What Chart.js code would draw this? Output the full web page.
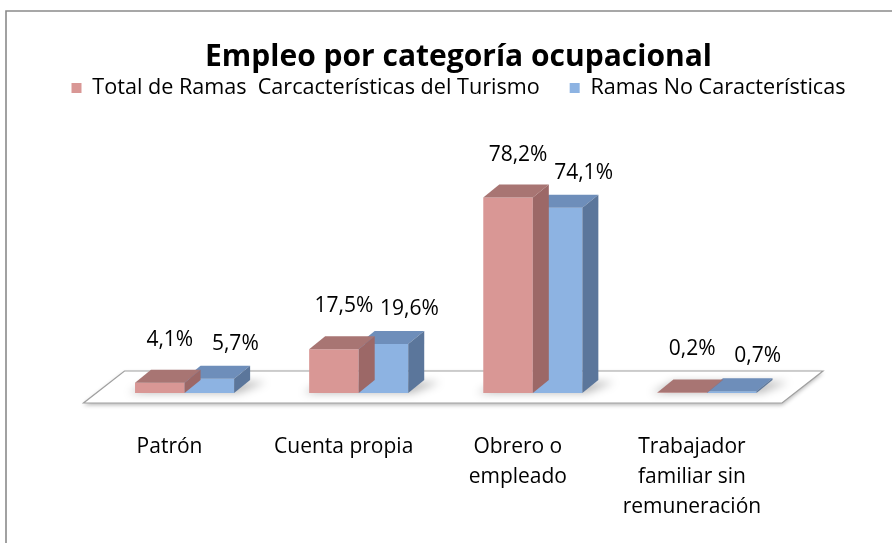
<!DOCTYPE html>
<html>
<head>
<meta charset="utf-8">
<script src="https://cdn.jsdelivr.net/npm/chart.js@4.4.1/dist/chart.umd.min.js"></script>
<style>
html,body{margin:0;padding:0;background:#fff;}
#wrap{width:892px;height:543px;position:relative;}
</style>
</head>
<body>
<div id="wrap"><canvas id="c" width="892" height="543"></canvas></div>
<script>
// ---- data ----
const categories = [["Patrón"], ["Cuenta propia"], ["Obrero o", "empleado"], ["Trabajador", "familiar sin", "remuneración"]];
const seriesNames = ["Total de Ramas  Carcacterísticas del Turismo", "Ramas No Características"];
const turismo = [4.1, 17.5, 78.2, 0.2];
const noCaracteristicas = [5.7, 19.6, 74.1, 0.7];
const chartTitle = "Empleo por categoría ocupacional";

// ---- styling ----
const FONT = "'Open Sans', 'DejaVu Sans', sans-serif";
Chart.defaults.font.family = FONT;
Chart.defaults.color = '#000';
const DX = 16, DY = -13; // 3D depth of bars

function fmt(v) { return v.toFixed(1).replace('.', ',') + '%'; }

const threeD = {
  id: 'threeD',
  beforeDraw(chart) {
    const ctx = chart.ctx;
    ctx.save();
    ctx.fillStyle = '#fff';
    ctx.fillRect(0, 0, chart.width, chart.height);
    ctx.strokeStyle = '#8a8a8a';
    ctx.lineWidth = 1.6;
    ctx.beginPath();
    ctx.moveTo(6, chart.height);
    ctx.lineTo(6, 11);
    ctx.lineTo(chart.width, 11);
    ctx.stroke();
    ctx.restore();
  },
  beforeDatasetsDraw(chart) {
    const ctx = chart.ctx, a = chart.chartArea, b = a.bottom;
    ctx.save();
    ctx.beginPath();
    ctx.moveTo(a.left - 14, b + 10);
    ctx.lineTo(a.right - 12, b + 10);
    ctx.lineTo(a.right + 29, b - 22);
    ctx.lineTo(a.left + 27, b - 22);
    ctx.closePath();
    ctx.fillStyle = '#fff';
    ctx.shadowColor = 'rgba(0,0,0,0.30)';
    ctx.shadowBlur = 4;
    ctx.shadowOffsetY = 2;
    ctx.fill();
    ctx.shadowColor = 'transparent';
    ctx.strokeStyle = '#a0a0a0';
    ctx.lineWidth = 1.2;
    ctx.stroke();
    // soft shadows of the bars on the floor
    const m0 = chart.getDatasetMeta(0), m1 = chart.getDatasetMeta(1);
    ctx.filter = 'blur(4px)';
    ctx.fillStyle = 'rgba(0,0,0,0.28)';
    m0.data.forEach((bar0, i) => {
      const bar1 = m1.data[i];
      const l = bar0.x - bar0.width / 2, r = bar1.x + bar1.width / 2;
      ctx.beginPath();
      ctx.moveTo(l - 6, b);
      ctx.lineTo(r + 4, b);
      ctx.lineTo(r + DX + 16, b + DY + 2);
      ctx.lineTo(l + DX, b + DY + 2);
      ctx.closePath();
      ctx.fill();
    });
    ctx.filter = 'none';
    ctx.restore();
  },
  afterDatasetDraw(chart, args) {
    const ctx = chart.ctx;
    const ds = chart.data.datasets[args.index];
    ctx.save();
    args.meta.data.forEach(bar => {
      const x = bar.x, y = bar.y, base = bar.base, w = bar.width;
      const l = x - w / 2, r = x + w / 2;
      ctx.fillStyle = ds.topColor;
      ctx.beginPath();
      ctx.moveTo(l, y); ctx.lineTo(l + DX, y + DY); ctx.lineTo(r + DX, y + DY); ctx.lineTo(r, y);
      ctx.closePath(); ctx.fill();
      ctx.fillStyle = ds.sideColor;
      ctx.beginPath();
      ctx.moveTo(r, y); ctx.lineTo(r + DX, y + DY); ctx.lineTo(r + DX, base + DY); ctx.lineTo(r, base);
      ctx.closePath(); ctx.fill();
    });
    ctx.restore();
  },
  afterDatasetsDraw(chart) {
    const ctx = chart.ctx;
    ctx.save();
    ctx.font = "21px " + FONT;
    ctx.fillStyle = '#000';
    ctx.textAlign = 'center';
    ctx.textBaseline = 'middle';
    chart.data.datasets.forEach((ds, di) => {
      chart.getDatasetMeta(di).data.forEach((bar, i) => {
        ctx.fillText(fmt(ds.data[i]), bar.x + ds.labelDx, bar.y + ds.labelDy);
      });
    });
    ctx.restore();
  }
};

const hiddenAxis = (w, pos) => ({
  display: true, position: pos,
  grid: { display: false }, border: { display: false }, ticks: { display: false },
  afterFit: s => { s.width = w; }
});

new Chart(document.getElementById('c'), {
  type: 'bar',
  data: {
    labels: categories,
    datasets: [
      { label: seriesNames[0], data: turismo, backgroundColor: '#D99795', topColor: '#A87573', sideColor: '#9C6867', borderWidth: 0, labelDx: 10, labelDy: -43, yAxisID: 'y' },
      { label: seriesNames[1], data: noCaracteristicas, backgroundColor: '#8DB3E2', topColor: '#6E8EBA', sideColor: '#5B769B', borderWidth: 0, labelDx: 26, labelDy: -35, yAxisID: 'y' }
    ]
  },
  options: {
    responsive: false,
    animation: false,
    devicePixelRatio: 1,
    layout: { padding: { left: 25, right: 0, top: 0, bottom: 21 } },
    datasets: { bar: { categoryPercentage: 0.569, barPercentage: 1 } },
    plugins: {
      title: { display: true, text: chartTitle, color: '#000',
        font: { family: FONT, size: 30, weight: 'bold', lineHeight: 0.8 },
        padding: { top: 45, bottom: -21.8 } },
      legend: { labels: { boxWidth: 10, boxHeight: 10, padding: 30, color: '#000',
        font: { family: FONT, size: 21.6 } } },
      tooltip: { enabled: false }
    },
    scales: {
      x: {
        grid: { display: false, drawTicks: false },
        border: { display: false },
        ticks: { padding: 39, labelOffset: -15, maxRotation: 0, autoSkip: false, color: '#000',
          font: { family: FONT, size: 21, lineHeight: 1.43 } },
        afterFit: s => { s.height = 129; }
      },
      y: Object.assign(hiddenAxis(72.5, 'left'), { min: 0, max: 113.7 }),
      yRight: hiddenAxis(98, 'right')
    }
  },
  plugins: [threeD]
});
</script>
</body>
</html>
